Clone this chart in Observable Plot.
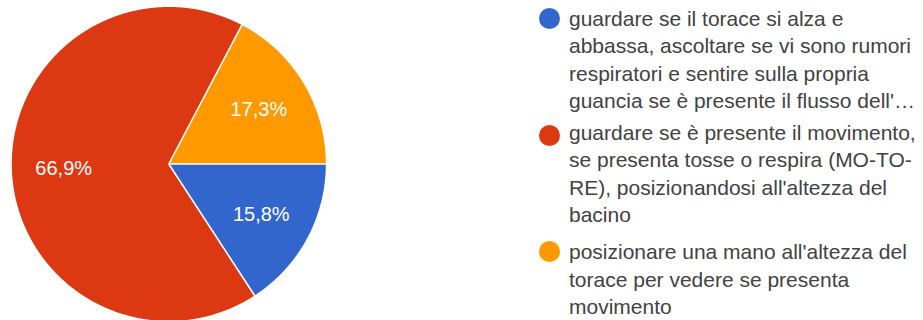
<!DOCTYPE html>
<html>
<head>
<meta charset="utf-8">
<script src="https://cdn.jsdelivr.net/npm/d3@7"></script>
<script src="https://cdn.jsdelivr.net/npm/@observablehq/plot@0.6"></script>
<style>
  html, body { margin: 0; padding: 0; background: #fff; }
  #wrap { position: relative; width: 923px; height: 320px; overflow: hidden; }
  #chart svg { display: block; }
  .item { position: absolute; left: 539px; }
  .sw { position: absolute; left: 0; width: 21px; height: 21px; border-radius: 50%; }
  .txt { position: absolute; left: 30px; font-family: "Liberation Sans", Arial, sans-serif; font-size: 21px; line-height: 27.3px; color: #424242; white-space: nowrap; }
</style>
</head>
<body>
<div id="wrap">
  <div id="chart"></div>
  <div id="legend"></div>
</div>
<script>
// ---- data ----
const categories = [
  "guardare se il torace si alza e abbassa, ascoltare se vi sono rumori respiratori e sentire sulla propria guancia se è presente il flusso dell'aria",
  "guardare se è presente il movimento, se presenta tosse o respira (MO-TO-RE), posizionandosi all'altezza del bacino",
  "posizionare una mano all'altezza del torace per vedere se presenta movimento"
];
const legendLines = [
  ["guardare se il torace si alza e", "abbassa, ascoltare se vi sono rumori", "respiratori e sentire sulla propria", "guancia se è presente il flusso dell'…"],
  ["guardare se è presente il movimento,", "se presenta tosse o respira (MO-TO-", "RE), posizionandosi all'altezza del", "bacino"],
  ["posizionare una mano all'altezza del", "torace per vedere se presenta", "movimento"]
];
const values = [15.8, 66.9, 17.3];
const valueLabels = ["15,8%", "66,9%", "17,3%"];
const colors = ["#3366cc", "#dc3912", "#ff9900"];

// ---- geometry from data ----
const cx = 168.3, cy = 163.5, r = 157;
const arcs = d3.pie().sort(null).startAngle(Math.PI / 2).endAngle(Math.PI / 2 + 2 * Math.PI)(values);
const slices = arcs.map((a, i) => ({
  key: categories[i],
  start: a.startAngle,
  end: a.endAngle,
  mid: (a.startAngle + a.endAngle) / 2,
  label: valueLabels[i]
}));
const pts = [];
for (const s of slices) {
  pts.push({key: s.key, x: 0, y: 0});
  const n = Math.max(2, Math.ceil((s.end - s.start) / 0.005));
  for (let k = 0; k <= n; k++) {
    const t = s.start + (s.end - s.start) * k / n;
    pts.push({key: s.key, x: Math.sin(t), y: Math.cos(t)});
  }
  pts.push({key: s.key, x: 0, y: 0});
}
const lr = 0.67;

const plot = Plot.plot({
  width: 923,
  height: 320,
  margin: 0,
  style: {background: "white", overflow: "hidden"},
  x: {domain: [-1, 1], range: [cx - r, cx + r], axis: null},
  y: {domain: [-1, 1], range: [cy + r, cy - r], axis: null},
  color: {domain: categories, range: colors},
  marks: [
    Plot.line(pts, {x: "x", y: "y", z: "key", fill: "key", stroke: "none"}),
    Plot.link(slices, {x1: () => 0, y1: () => 0, x2: d => Math.sin(d.start), y2: d => Math.cos(d.start), stroke: "white", strokeWidth: 1.6}),
    Plot.text(slices, {x: d => lr * Math.sin(d.mid), y: d => lr * Math.cos(d.mid), text: "label", fill: "white", fontSize: 20, fontFamily: "Liberation Sans, Arial, sans-serif"})
  ]
});
document.getElementById("chart").appendChild(plot);

// ---- legend ----
const dotCenters = [18.3, 135, 251.7];
const baselines = [26, 140, 259.4];
const fs = 21, lh = 27.3;
const baseOff = (lh - 1.117 * fs) / 2 + 0.905 * fs;
const legend = document.getElementById("legend");
legendLines.forEach((lines, i) => {
  const item = document.createElement("div");
  item.className = "item";
  item.style.top = "0px";
  const sw = document.createElement("div");
  sw.className = "sw";
  sw.style.background = colors[i];
  sw.style.top = (dotCenters[i] - 10.5) + "px";
  item.appendChild(sw);
  const txt = document.createElement("div");
  txt.className = "txt";
  txt.style.top = (baselines[i] - baseOff) + "px";
  txt.innerHTML = lines.map(l => l.replace(/&/g, "&amp;").replace(/</g, "&lt;")).join("<br>");
  item.appendChild(txt);
  legend.appendChild(item);
});
</script>
</body>
</html>
